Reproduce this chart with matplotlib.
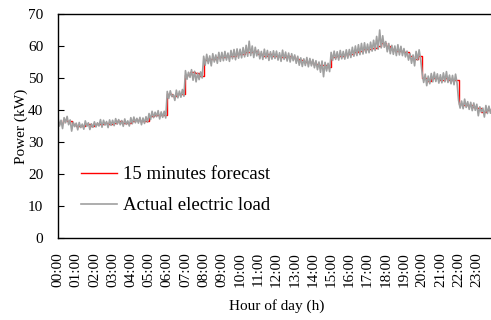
import numpy as np
import matplotlib
matplotlib.use("Agg")
import matplotlib.pyplot as plt

# 15-minute forecast (kW), 96 intervals
forecast = [
    36, 37, 36.5, 35.5,
    35, 35, 35.5, 35,
    35.5, 35.5, 36, 35.5,
    36, 36.5, 36, 36,
    36.5, 37, 36.5, 36.5,
    38, 38.5, 38.5, 38.5,
    45, 44.5, 45, 45,
    51, 52, 51.5, 50.5,
    55.5, 56, 56, 56.5,
    56.5, 57, 57, 57.5,
    57.5, 58, 58, 58.5,
    57.5, 57, 57.5, 57,
    57, 56.5, 57, 56.5,
    56, 55.5, 55, 55,
    54.5, 54, 54, 53.5,
    56.5, 57, 57, 57.5,
    57.5, 58, 58.5, 59,
    59, 59.5, 60, 61,
    60, 59, 58.5, 58.5,
    58, 57, 56, 57,
    50, 49, 50, 50,
    49.5, 50, 49.5, 49.5,
    42, 41.5, 41.5, 41,
    40.5, 39.5, 40, 40,
]

# Actual electric load (kW), 5-minute samples
actual = [
    37.5, 35.0, 36.8, 34.2, 37.6, 36.0, 38.0, 35.4, 36.9, 33.4, 36.2, 34.8,
    35.9, 33.8, 36.1, 34.5, 35.6, 34.0, 36.6, 34.9, 36.0, 33.9, 35.7, 34.6,
    36.3, 34.7, 36.0, 35.0, 37.0, 34.6, 36.8, 35.3, 36.4, 34.5, 36.9, 35.2,
    36.8, 35.1, 37.3, 35.6, 37.0, 35.4, 36.7, 34.9, 37.2, 35.5, 36.6, 35.0,
    37.6, 35.7, 37.8, 36.0, 37.4, 35.9, 37.7, 35.4, 37.5, 35.8, 37.9, 36.2,
    38.9, 37.0, 39.6, 37.6, 39.3, 37.9, 39.8, 37.2, 39.4, 37.7, 39.6, 37.5,
    45.8, 43.6, 46.0, 44.2, 44.8, 43.0, 46.2, 43.8, 45.9, 44.0, 46.4, 44.3,
    52.3, 49.6, 51.8, 50.2, 52.6, 49.3, 52.1, 48.8, 51.5, 49.5, 51.9, 50.0,
    56.8, 54.0, 57.4, 54.5, 56.9, 53.8, 57.6, 55.0, 57.2, 54.6, 58.0, 55.2,
    58.0, 55.4, 58.3, 55.6, 57.8, 55.2, 58.6, 56.0, 58.9, 55.7, 59.1, 56.2,
    59.0, 56.3, 59.5, 56.6, 60.2, 56.8, 61.5, 57.0, 60.0, 56.4, 59.6, 56.9,
    58.8, 56.0, 58.3, 55.8, 59.0, 56.2, 58.6, 55.5, 58.2, 55.9, 58.5, 56.1,
    58.4, 55.6, 57.9, 55.2, 58.7, 55.8, 58.1, 55.3, 57.8, 55.0, 57.6, 55.4,
    57.2, 54.6, 56.8, 54.0, 56.3, 53.6, 56.0, 53.9, 56.4, 53.5, 56.1, 53.8,
    55.8, 53.2, 55.4, 52.6, 55.0, 51.8, 55.3, 50.4, 54.9, 52.2, 54.6, 52.0,
    58.0, 55.5, 58.4, 55.8, 58.2, 55.6, 58.6, 56.0, 58.3, 55.9, 58.8, 56.2,
    58.9, 56.4, 59.6, 56.8, 60.0, 57.0, 60.4, 57.3, 60.8, 57.5, 61.0, 57.8,
    60.6, 57.9, 61.2, 58.4, 61.8, 58.6, 63.0, 59.0, 65.0, 59.4, 63.2, 59.6,
    61.4, 58.2, 60.8, 57.6, 60.2, 57.4, 60.0, 57.0, 60.4, 57.2, 59.9, 57.0,
    59.2, 56.6, 58.4, 55.6, 57.6, 54.6, 57.2, 53.8, 58.3, 55.6, 58.8, 55.8,
    51.5, 48.6, 51.2, 47.6, 50.6, 48.2, 51.4, 48.8, 51.8, 48.9, 51.3, 48.4,
    51.0, 48.5, 51.6, 48.8, 52.0, 48.6, 50.9, 48.2, 50.8, 47.9, 51.2, 48.4,
    43.0, 40.6, 42.8, 40.4, 43.4, 40.8, 42.6, 40.2, 42.4, 39.8, 42.2, 39.9,
    41.8, 38.2, 41.0, 39.4, 40.6, 37.8, 41.4, 38.9, 41.2, 39.0, 40.8, 39.4,
]

hour_labels = [f"{h:02d}:00" for h in range(24)]
y_ticks = [0, 10, 20, 30, 40, 50, 60, 70]

plt.rcParams['font.family'] = ['Liberation Serif', 'DejaVu Serif']

fig = plt.figure(figsize=(4.91, 3.20), dpi=100)
ax = fig.add_axes([58/491, 82/320, 437/491, 224/320])

fx = np.arange(len(forecast) + 1) * 0.25
fy = list(forecast) + [forecast[-1]]
ax.step(fx, fy, where='post', color='#ff0000', lw=1.0, label='15 minutes forecast')

ax_x = np.arange(len(actual)) * (5 / 60)
ax.plot(ax_x, actual, color='#a0a0a0', lw=1.2, label='Actual electric load')

ax.set_xlim(0, 24)
ax.set_ylim(0, 70)
ax.set_xticks(range(24))
ax.set_xticklabels(hour_labels, rotation=90, fontsize=11)
ax.set_yticks(y_ticks)
ax.set_yticklabels([str(v) for v in y_ticks], fontsize=11)
ax.tick_params(axis='x', length=0, pad=10)
ax.tick_params(axis='y', direction='in', length=4, pad=10.5)
ax.set_xlabel('Hour of day (h)', fontsize=11, labelpad=9)
ax.set_ylabel('Power (kW)', fontsize=11, labelpad=0)
for s in ax.spines.values():
    s.set_linewidth(1.0)

ax.legend(loc='lower left', bbox_to_anchor=(0.015, 0.03), frameon=False,
          fontsize=13.5, handlelength=1.9, handletextpad=0.3, labelspacing=0.75)

fig.savefig('out.png', dpi=100)
